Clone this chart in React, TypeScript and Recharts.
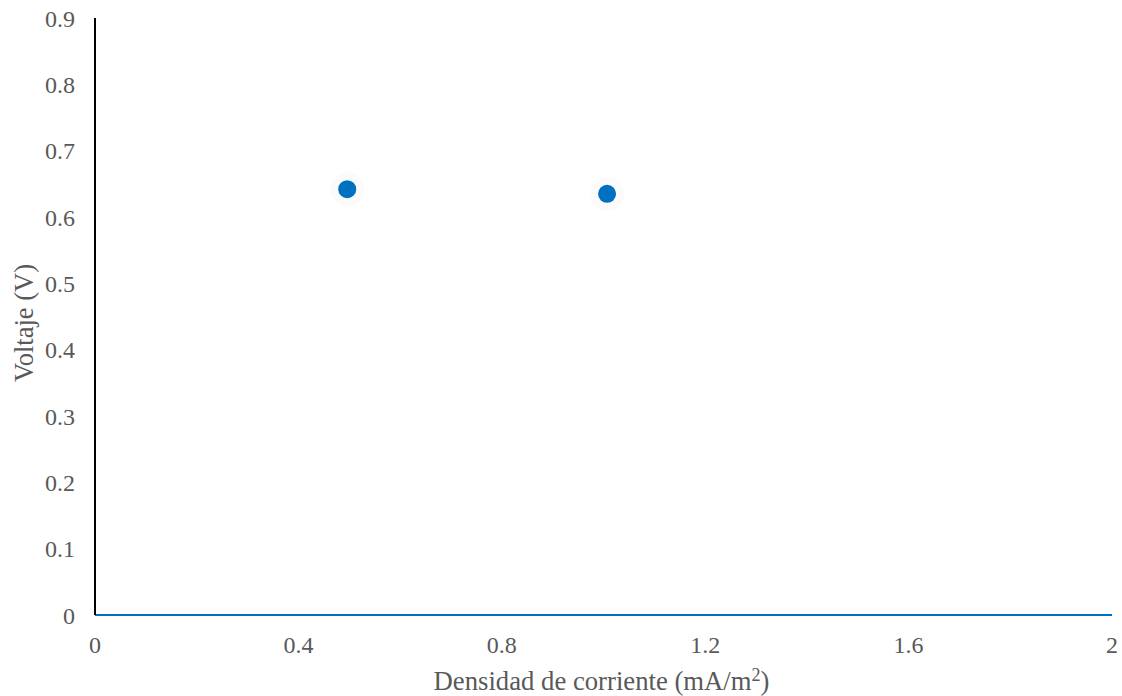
import React from 'react';
import {ScatterChart, Scatter, XAxis, YAxis, Label} from 'recharts';

const densidad = [0.496, 1.007];
const voltaje = [0.642, 0.635];
const xTicks = [0, 0.4, 0.8, 1.2, 1.6, 2];
const yTicks = [0, 0.1, 0.2, 0.3, 0.4, 0.5, 0.6, 0.7, 0.8, 0.9];

const data = densidad.map((x, i) => ({x, y: voltaje[i]}));

const FONT = '"Liberation Serif", "Times New Roman", serif';
const GREY = '#595959';
const BLUE = '#0070C0';

const Dot = (props: any) => {
  const {cx, cy} = props;
  return (
    <g>
      <circle cx={cx} cy={cy} r={17} fill="#f4f4f4" fillOpacity={0.4} />
      <circle cx={cx} cy={cy} r={9} fill={BLUE} />
    </g>
  );
};

const XTitle = (props: any) => {
  const {viewBox} = props;
  const cx = viewBox.x + viewBox.width / 2 - 2;
  return (
    <text x={cx} y={690} textAnchor="middle" fill={GREY} fontSize={26.7} fontFamily={FONT}>
      Densidad de corriente (mA/m
      <tspan dy={-9} fontSize={18}>2</tspan>
      <tspan dy={9}>)</tspan>
    </text>
  );
};

const YTitle = () => (
  <text
    x={24}
    y={323}
    transform="rotate(-90 24 323)"
    textAnchor="middle"
    dominantBaseline="central"
    fill={GREY}
    fontSize={26.5}
    fontFamily={FONT}
  >
    Voltaje (V)
  </text>
);

const fmt = (v: number) => String(Number(v.toFixed(1)));

export default function App() {
  return (
    <div style={{position: 'absolute', left: 0, top: 0, background: '#fff'}}>
      <ScatterChart
        width={1122}
        height={696}
        margin={{top: 18, right: 10, bottom: 0, left: 0}}
      >
        <XAxis
          type="number"
          dataKey="x"
          domain={[0, 2]}
          ticks={xTicks}
          tickFormatter={fmt}
          height={81}
          tickLine={false}
          tickSize={0}
          tickMargin={21}
          axisLine={{stroke: BLUE, strokeWidth: 2}}
          tick={{fill: GREY, fontSize: 24, fontFamily: FONT}}
          interval={0}
        >
          <Label content={<XTitle />} />
        </XAxis>
        <YAxis
          type="number"
          dataKey="y"
          domain={[0, 0.9]}
          ticks={yTicks}
          tickFormatter={fmt}
          width={95}
          tickLine={false}
          tickSize={0}
          tickMargin={20}
          axisLine={{stroke: '#000', strokeWidth: 2}}
          tick={{fill: GREY, fontSize: 24, fontFamily: FONT}}
          interval={0}
        >
          <Label content={<YTitle />} />
        </YAxis>
        <Scatter data={data} shape={<Dot />} isAnimationActive={false} />
      </ScatterChart>
    </div>
  );
}
